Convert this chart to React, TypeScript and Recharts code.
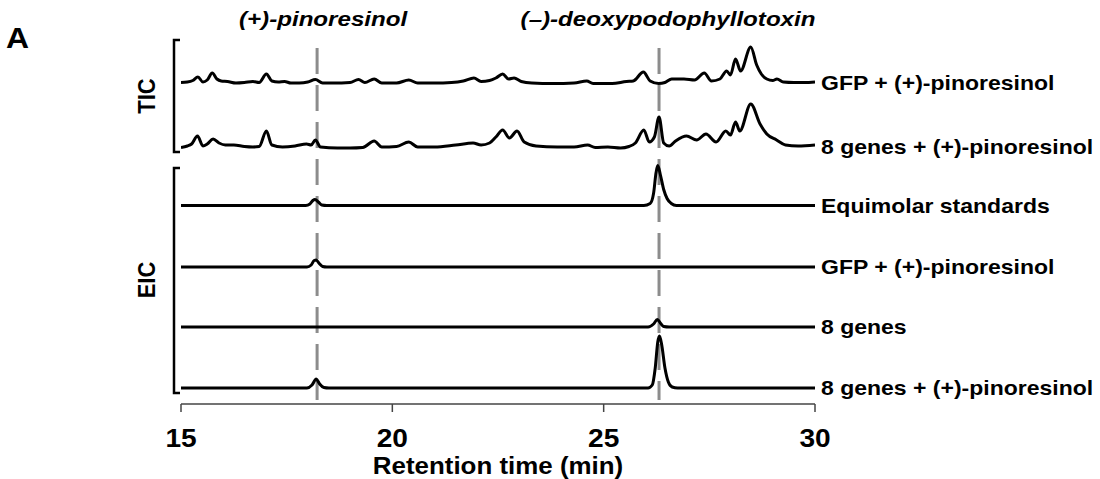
import React from 'react';
import { LineChart, Line, XAxis, YAxis, ReferenceLine, ReferenceDot } from 'recharts';

// retention time (min), signal height above the trace's own baseline (arbitrary units)
const ticGfp: [number, number][] = [
  [15.0, 0.5], [15.15, 1], [15.28, 2.5], [15.4, 6], [15.52, 1], [15.62, 3], [15.74, 10], [15.85, 4],
  [15.95, 2], [16.1, 1.5], [16.3, 0], [16.5, 0.5], [16.7, 1.5], [16.85, 0.5], [17.02, 9], [17.15, 2],
  [17.3, 1], [17.45, 1.5], [17.6, 0], [17.8, 0], [18.0, 1], [18.18, 3.5], [18.35, 0], [18.6, 0],
  [19.0, 0.5], [19.2, 3.5], [19.35, 0.5], [19.57, 4], [19.75, 0], [20.1, 0], [20.39, 3], [20.6, 0],
  [21.0, 0], [21.4, 0.5], [21.68, 2], [21.93, 5], [22.1, 1.5], [22.3, 2.5], [22.45, 5], [22.61, 9],
  [22.75, 4], [22.88, 5], [23.05, 1.5], [23.3, 0], [23.8, -0.5], [24.3, 0], [24.6, 2], [24.75, -0.5],
  [25.2, -0.5], [25.54, 1.5], [25.7, 2], [25.94, 11], [26.1, 2], [26.3, -0.5], [26.45, 0.5], [26.61, 4],
  [26.9, 4], [27.15, 3], [27.38, 10], [27.55, 2], [27.75, 4], [27.91, 12], [28.0, 8], [28.12, 24],
  [28.24, 12], [28.48, 36], [28.62, 18], [28.73, 9], [28.86, 4], [29.0, 2.5], [29.1, 4], [29.25, 1],
  [29.5, 0.5], [29.75, 0.5], [30.0, 1],
];

const tic8Genes: [number, number][] = [
  [15.0, -0.5], [15.15, 1], [15.25, 3], [15.39, 11], [15.52, 1], [15.62, 3], [15.76, 8], [15.9, 4],
  [16.05, 2], [16.25, 2], [16.5, 0.5], [16.7, 0], [16.85, 0.5], [17.02, 16], [17.15, 2], [17.4, 0],
  [17.7, 1], [17.97, 3], [18.08, 2], [18.18, 7], [18.3, 0], [18.7, -1], [19.0, -1], [19.3, -0.5],
  [19.57, 6], [19.75, 0], [20.1, 0.5], [20.39, 5], [20.6, 0], [21.0, 0], [21.5, 2], [21.91, 4],
  [22.1, 2], [22.3, 4], [22.45, 10], [22.61, 17], [22.77, 9], [22.95, 16], [23.12, 5], [23.4, 1],
  [23.9, 0], [24.3, 0], [24.62, 2], [24.8, -0.5], [25.1, 0], [25.4, -1], [25.6, 0.5], [25.75, 4],
  [25.95, 17], [26.08, 5], [26.2, 10], [26.31, 30], [26.42, 4], [26.55, 1], [26.7, 6], [26.96, 11],
  [27.2, 7], [27.42, 13], [27.66, 5], [27.89, 16], [28.0, 12], [28.12, 25], [28.22, 16], [28.48, 43],
  [28.7, 23], [28.86, 13], [29.09, 7], [29.3, 2], [29.6, 1], [30.0, 2],
];

const eicStandards: [number, number][] = [
  [15, 0], [17.95, 0], [18.05, 1.5], [18.12, 5], [18.17, 6], [18.25, 3.5], [18.33, 0.5], [18.45, 0],
  [25.95, 0], [26.1, 2], [26.18, 12], [26.24, 33], [26.28, 40], [26.34, 31], [26.42, 16], [26.5, 7],
  [26.6, 2], [26.72, 0], [30, 0],
];

const eicGfp: [number, number][] = [
  [15, 0], [17.98, 0], [18.08, 2], [18.15, 6.5], [18.2, 7], [18.27, 3.5], [18.35, 0.5], [18.45, 0], [30, 0],
];

const eic8Genes: [number, number][] = [
  [15, 0], [26.05, 0], [26.18, 3], [26.27, 7.5], [26.35, 3.5], [26.42, 0.5], [26.55, 0], [30, 0],
];

const eic8GenesPin: [number, number][] = [
  [15, 0], [17.98, 0], [18.1, 3], [18.2, 9], [18.28, 4], [18.38, 0.5], [18.5, 0], [26.05, 0],
  [26.15, 3], [26.22, 20], [26.28, 46], [26.32, 52], [26.37, 44], [26.45, 20], [26.53, 6], [26.62, 1],
  [26.75, 0], [30, 0],
];

const traceNames = [
  'GFP + (+)-pinoresinol',
  '8 genes + (+)-pinoresinol',
  'Equimolar standards',
  'GFP + (+)-pinoresinol',
  '8 genes',
  '8 genes + (+)-pinoresinol',
];
const traceOffsets = [321, 257, 198.5, 137, 77, 16];
const markerTimes = [18.22, 26.31];
const markerNames = ['(+)-pinoresinol', '(–)-deoxypodophyllotoxin'];
const xTicks = [15, 20, 25, 30];

const traces = [ticGfp, tic8Genes, eicStandards, eicGfp, eic8Genes, eic8GenesPin].map((pts, i) =>
  pts.map(([x, h]) => ({ x, y: h + traceOffsets[i] }))
);

const FONT = '"Liberation Sans", Arial, sans-serif';

// the original figure is stretched sideways, so text gets a horizontal scale
const StretchText = ({ x, y, size, sx = 1.15, anchor = 'start', italic = false, rotate = false, children }: any) => (
  <text
    transform={`translate(${x} ${y}) scale(${sx} 1)${rotate ? ' rotate(-90)' : ''}`}
    textAnchor={anchor}
    fontFamily={FONT}
    fontWeight="bold"
    fontStyle={italic ? 'italic' : 'normal'}
    fontSize={size}
    fill="#000"
  >
    {children}
  </text>
);

const markerLabel = (text: string, dx: number) => (props: any) => {
  const vb = props.viewBox;
  return (
    <StretchText x={vb.x + vb.width / 2 + dx} y={vb.y - 13} size={21} anchor="middle" italic>
      {text}
    </StretchText>
  );
};

const traceLabel = (text: string) => (props: any) => {
  const vb = props.viewBox;
  return (
    <StretchText x={vb.x + vb.width / 2 + 6} y={vb.y + vb.height / 2 + 7} size={20}>
      {text}
    </StretchText>
  );
};

const TimeTick = (props: any) => {
  const { x, y, payload } = props;
  return (
    <StretchText x={x} y={y + 33} size={26} sx={1.08} anchor="middle">
      {payload.value}
    </StretchText>
  );
};

const AxisTitle = (props: any) => {
  const vb = props.viewBox;
  return (
    <StretchText x={vb.x + vb.width / 2} y={vb.y + 70} size={24} sx={1.08} anchor="middle">
      Retention time (min)
    </StretchText>
  );
};

export default function App() {
  return (
    <div style={{ position: 'absolute', left: 0, top: 0, width: 1100, height: 479, background: '#fff' }}>
      <LineChart width={1100} height={479} margin={{ top: 40, right: 285, bottom: 45, left: 181 }}>
        <XAxis
          type="number"
          dataKey="x"
          domain={[15, 30]}
          ticks={xTicks}
          allowDataOverflow
          height={30}
          tickSize={8}
          axisLine={{ stroke: '#444', strokeWidth: 1.5 }}
          tickLine={{ stroke: '#444', strokeWidth: 1.5 }}
          tick={<TimeTick />}
          label={{ content: AxisTitle }}
        />
        <YAxis type="number" domain={[0, 364]} hide allowDataOverflow />
        {markerTimes.map((t) => (
          <ReferenceLine
            key={`m${t}`}
            segment={[{ x: t, y: 356 }, { x: t, y: 4 }]}
            stroke="#8c8c8c"
            strokeWidth={3}
            strokeDasharray="26 11"
          />
        ))}
        {traces.map((d, i) => (
          <Line
            key={`t${i}`}
            data={d}
            dataKey="y"
            type="monotone"
            stroke="#000"
            strokeWidth={3}
            dot={false}
            isAnimationActive={false}
          />
        ))}
        {markerTimes.map((t, i) => (
          <ReferenceDot
            key={`ml${i}`}
            x={t}
            y={364}
            r={1}
            fill="none"
            stroke="none"
            ifOverflow="visible"
            label={{ content: markerLabel(markerNames[i], i === 0 ? 6 : 9) }}
          />
        ))}
        {traceNames.map((name, i) => (
          <ReferenceDot
            key={`tl${i}`}
            x={30}
            y={traceOffsets[i]}
            r={1}
            fill="none"
            stroke="none"
            ifOverflow="visible"
            label={{ content: traceLabel(name) }}
          />
        ))}
      </LineChart>
      <svg width={1100} height={479} style={{ position: 'absolute', left: 0, top: 0, pointerEvents: 'none' }}>
        <StretchText x={6} y={48} size={29} sx={1.1}>A</StretchText>
        <path d="M180,40 H174 V152 H180" fill="none" stroke="#000" strokeWidth={2.5} />
        <path d="M180,168 H174 V393 H180" fill="none" stroke="#000" strokeWidth={2.5} />
        <StretchText x={155} y={96} size={22} sx={1.1} anchor="middle" rotate>TIC</StretchText>
        <StretchText x={155} y={280} size={22} sx={1.1} anchor="middle" rotate>EIC</StretchText>
      </svg>
    </div>
  );
}
